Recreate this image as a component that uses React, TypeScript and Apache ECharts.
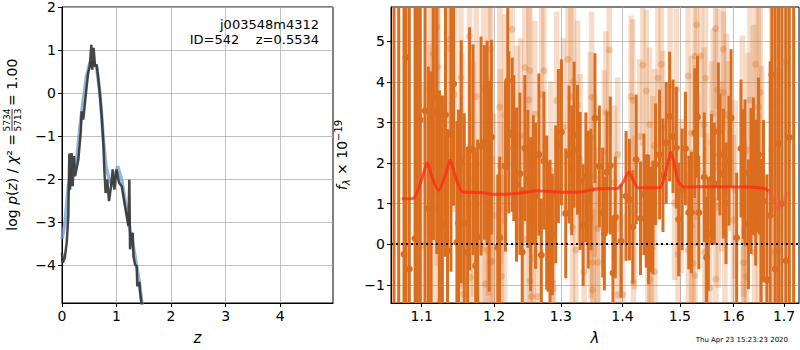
import React, { useEffect, useRef } from "react";
import * as echarts from "echarts";

// ---------- Left panel: log p(z) ----------
const pzDarkZ = [0.0, 0.012, 0.05, 0.086, 0.116, 0.134, 0.147, 0.162, 0.177, 0.196, 0.22, 0.24, 0.3, 0.343, 0.36, 0.39, 0.44, 0.48, 0.51, 0.538, 0.556, 0.58, 0.606, 0.636, 0.66, 0.697, 0.728, 0.758, 0.776, 0.8, 0.83, 0.862, 0.9, 0.93, 0.96, 1.0, 1.046, 1.095, 1.156, 1.217, 1.235, 1.248, 1.27, 1.297, 1.31, 1.34, 1.37, 1.38, 1.42, 1.43, 1.462];
const pzDark = [-3.72, -3.95, -3.85, -3.49, -2.87, -1.41, -2.25, -1.9, -1.4, -2.17, -1.47, -1.94, -1.55, -0.93, -0.43, -0.62, 0.0, 0.47, 0.62, 1.12, 0.54, 1.05, 0.62, 0.66, 0.4, -0.08, -0.54, -1.16, -1.78, -2.33, -2.02, -2.52, -2.17, -1.78, -2.25, -1.78, -2.09, -2.17, -2.64, -3.1, -2.02, -3.64, -3.3, -3.26, -3.8, -4.0, -4.03, -4.5, -4.4, -4.6, -4.95];
const pzBlueZ = [0.0, 0.055, 0.116, 0.177, 0.27, 0.33, 0.39, 0.45, 0.51, 0.574, 0.636, 0.697, 0.758, 0.807, 0.868, 0.93, 1.02, 1.095, 1.174, 1.248, 1.34, 1.42, 1.47];
const pzBlue = [-3.4, -3.02, -2.17, -1.78, -1.55, -0.78, -0.16, 0.39, 0.7, 0.71, 0.58, 0.0, -1.09, -1.71, -2.02, -2.17, -1.71, -2.02, -2.64, -3.18, -3.8, -4.42, -4.95];

const zTicks = [0, 1, 2, 3, 4];
const pzTicks = [-4, -3, -2, -1, 0, 1, 2];
const pzTickLabels = ["−4", "−3", "−2", "−1", "0", "1", "2"];

// ---------- Right panel: spectrum ----------
const lamTicks = [1.1, 1.2, 1.3, 1.4, 1.5, 1.6, 1.7];
const lamTickLabels = ["1.1", "1.2", "1.3", "1.4", "1.5", "1.6", "1.7"];
const fluxTicks = [-1, 0, 1, 2, 3, 4, 5];
const fluxTickLabels = ["−1", "0", "1", "2", "3", "4", "5"];

const darkLam = [1.064, 1.07, 1.0768, 1.0794, 1.0837, 1.0912, 1.0943, 1.0978, 1.1044, 1.1088, 1.1124, 1.1155, 1.1201, 1.1237, 1.1277, 1.1319, 1.1346, 1.1393, 1.1429, 1.1475, 1.1498, 1.1535, 1.1577, 1.1623, 1.1651, 1.1699, 1.1736, 1.1765, 1.1812, 1.186, 1.1899, 1.1928, 1.1961, 1.2052, 1.2081, 1.2164, 1.2198, 1.2213, 1.2263, 1.2287, 1.2327, 1.2377, 1.2412, 1.2451, 1.2496, 1.2537, 1.2578, 1.2613, 1.2663, 1.27, 1.274, 1.2782, 1.2802, 1.2833, 1.287, 1.2921, 1.2963, 1.301, 1.3078, 1.313, 1.3173, 1.321, 1.3264, 1.3306, 1.3354, 1.3398, 1.3436, 1.348, 1.3545, 1.3617, 1.3672, 1.3699, 1.3743, 1.3797, 1.3842, 1.388, 1.3976, 1.4061, 1.4118, 1.4176, 1.4233, 1.4307, 1.4366, 1.4406, 1.4446, 1.448, 1.4522, 1.4568, 1.4639, 1.4698, 1.4756, 1.4817, 1.4877, 1.4937, 1.4978, 1.5041, 1.5101, 1.5161, 1.521, 1.5271, 1.5321, 1.5345, 1.5446, 1.5489, 1.5521, 1.5581, 1.5633, 1.5709, 1.5739, 1.5804, 1.5855, 1.5912, 1.5951, 1.6059, 1.6143, 1.6189, 1.6221, 1.6288, 1.6339, 1.6386, 1.6431, 1.6485, 1.6537, 1.6585, 1.6652, 1.6719, 1.6753, 1.6821, 1.6889, 1.6955, 1.7039, 1.7108, 1.7197];
const darkFlux = [6.5, -2.0, -0.25, 4.61, -0.61, 0.14, 0.41, 3.07, 3.29, 0.88, 0.26, 3.6, 3.26, 0.59, 0.47, 3.19, -0.16, 2.72, 3.95, 0.04, 0.52, 2.03, 0.53, -0.2, 2.35, 2.33, -0.53, 0.18, 2.42, 2.51, 2.52, 1.43, 2.64, -0.08, 0.16, 1.92, 4.03, 2.76, 2.7, 2.37, 1.47, 1.74, -0.19, 2.37, 1.61, 0.74, 1.58, 1.19, 2.21, -0.27, 2.06, 0.78, 0.43, 0.28, 0.24, 1.23, 2.42, 2.76, 0.76, 2.21, 1.82, 2.7, 2.33, 1.56, 0.47, 1.65, 1.1, 1.35, 3.11, 1.92, 0.78, 0.26, 1.78, 1.94, -0.71, 0.66, 0.08, 1.19, 1.1, 0.43, 2.09, 0.64, 1.23, 0.82, 0.61, 0.61, 0.66, 1.97, 2.21, 1.7, 2.5, 3.15, 2.66, 2.38, 0.61, 1.35, 2.36, 0.78, 0.78, 2.74, 3.14, 0.78, 1.65, -0.33, 0.25, 1.61, 1.49, 2.78, 2.21, 1.74, 1.01, 2.06, 3.11, 0.16, 2.36, 1.73, 1.77, 0.49, 1.56, 1.92, 1.27, 2.21, 0.3, 1.06, -0.88, 0.71, 4.18, -0.61, 2.48, 1.0, -0.41, 2.64, 7.0];
const darkErr = [9, 9, 9, 9, 9, 9, 9, 7, 5, 3.5, 4, 3.5, 3.5, 3.2, 3.2, 3.5, 3, 3.4, 3, 3, 2.8, 3, 2.7, 2.6, 3, 2.6, 2.8, 2.4, 2.7, 2.4, 2.5, 2.6, 2.4, 1.8, 2.0, 2.1, 2.2, 2.0, 1.9, 1.8, 1.9, 2.0, 1.6, 1.8, 1.7, 1.9, 1.6, 1.8, 2.0, 1.4, 1.7, 1.9, 1.6, 1.8, 1.5, 1.7, 1.9, 1.8, 1.6, 1.7, 1.6, 1.8, 1.6, 1.7, 1.5, 1.6, 1.7, 1.5, 1.6, 1.5, 1.6, 1.4, 1.5, 1.7, 1.4, 1.5, 1.4, 1.6, 1.5, 1.4, 1.6, 1.4, 1.5, 1.4, 1.6, 1.3, 1.4, 1.5, 1.6, 1.4, 1.5, 1.6, 1.4, 1.5, 1.4, 1.5, 1.4, 1.4, 1.5, 1.6, 1.5, 1.4, 1.6, 1.5, 1.4, 1.6, 1.5, 1.7, 1.5, 1.6, 1.5, 1.6, 1.7, 1.6, 1.7, 1.6, 1.8, 1.6, 1.8, 1.7, 1.8, 1.9, 1.8, 2.0, 2.6, 3.8, 3.4, 9, 9, 9, 9, 9, 12];

const lightLam = [1.0955, 1.1021, 1.1102, 1.1111, 1.1155, 1.1178, 1.1201, 1.121, 1.1214, 1.1246, 1.1373, 1.1383, 1.1442, 1.1531, 1.1545, 1.1559, 1.1651, 1.1661, 1.1707, 1.1745, 1.1826, 1.1849, 1.1874, 1.1907, 1.1921, 1.1927, 1.1946, 1.195, 1.1971, 1.1994, 1.2081, 1.2091, 1.2106, 1.2149, 1.2154, 1.2263, 1.2337, 1.2387, 1.2451, 1.2462, 1.2511, 1.2526, 1.253, 1.2548, 1.2578, 1.2602, 1.2639, 1.2704, 1.274, 1.2844, 1.287, 1.2885, 1.2937, 1.3041, 1.3114, 1.3157, 1.3184, 1.32, 1.3237, 1.3264, 1.3306, 1.3371, 1.3469, 1.348, 1.3491, 1.3507, 1.3509, 1.3534, 1.3589, 1.3592, 1.3699, 1.3726, 1.378, 1.3863, 1.3919, 1.3922, 1.4004, 1.4147, 1.4176, 1.4186, 1.4203, 1.429, 1.4348, 1.4406, 1.4436, 1.4463, 1.4466, 1.4492, 1.4522, 1.455, 1.4553, 1.4609, 1.4668, 1.4698, 1.4826, 1.4904, 1.4937, 1.4967, 1.5028, 1.5149, 1.5152, 1.521, 1.5213, 1.5241, 1.5271, 1.5274, 1.5303, 1.5305, 1.5321, 1.5382, 1.5445, 1.5456, 1.5469, 1.5488, 1.555, 1.5581, 1.5613, 1.5657, 1.5662, 1.5694, 1.5707, 1.5771, 1.5804, 1.5806, 1.5835, 1.5867, 1.5899, 1.5996, 1.6028, 1.617, 1.6189, 1.6192, 1.6209, 1.6254, 1.6273, 1.6319, 1.6386, 1.6406, 1.6431, 1.6485, 1.6488, 1.6518, 1.6551, 1.6753, 1.6788, 1.6808, 1.6875, 1.7025];
const lightFlux = [-0.66, -0.02, 3.79, 1.43, 4.69, 0.88, 5.36, 2.66, 4.38, -1.39, 4.83, 5.05, 3.69, 4.11, 1.8, -1.23, 5.13, -0.82, 1.6, 3.64, -0.11, 3.85, -0.98, -0.16, 1.43, 3.32, -0.45, 4.81, -0.41, 0.71, 3.38, 1.92, -0.79, 0.59, 3.18, 5.3, 2.5, 2.68, 4.36, 0.12, 3.56, 4.28, -0.9, -1.29, -0.35, 3.21, -1.29, 3.69, 4.28, 1.82, -0.93, -1.09, 3.54, 2.88, 4.56, 3.64, 0.41, 4.01, -0.14, 3.42, 2.1, -0.68, 2.64, 0.66, 3.63, -0.45, -1.13, 1.68, 0.39, -0.45, 2.29, 3.25, 4.79, 1.52, 2.21, -1.25, -1.25, 3.64, 3.55, -0.93, 0.78, 2.66, 4.42, 3.78, -0.33, 2.95, -0.88, -0.06, 1.76, 2.42, -0.68, 4.1, 4.44, 2.87, 3.91, 1.02, 3.81, -0.25, 1.19, 4.15, -0.14, 2.74, 0.45, -0.47, 4.64, -0.78, 5.41, 2.5, 1.84, 4.64, 2.95, -0.2, 4.1, 0.53, -1.08, 2.51, 3.22, 5.32, -0.86, 3.81, 0.92, 1.92, 4.81, 3.74, 0.25, 3.19, 2.42, 0.6, 1.35, 2.95, 0.9, -0.45, 0.3, -0.8, 2.32, 3.55, 2.91, -0.2, 4.44, 3.38, 0.52, 3.74, 1.5, 2.33, 3.42, -0.19, -0.14, 4.5];
const lightErr = [4, 4, 3.5, 3.5, 3.5, 3.2, 3.5, 3.2, 3, 3.2, 3, 3.2, 2.9, 3, 2.9, 2.8, 3, 2.8, 2.9, 2.8, 2.7, 2.8, 2.7, 2.6, 2.7, 2.6, 2.6, 2.8, 2.6, 2.5, 2.6, 2.4, 2.5, 2.4, 2.5, 2.6, 2.4, 2.4, 2.5, 2.3, 2.4, 2.4, 2.3, 2.3, 2.2, 2.3, 2.2, 2.3, 2.3, 2.2, 2.2, 2.2, 2.2, 2.2, 2.3, 2.2, 2.1, 2.2, 2.1, 2.1, 2.1, 2.1, 2.1, 2.0, 2.1, 2.0, 2.0, 2.0, 2.0, 2.0, 2.0, 2.0, 2.1, 1.9, 1.9, 2.0, 2.0, 2.0, 2.0, 1.9, 1.9, 1.9, 2.0, 2.0, 1.9, 1.9, 1.9, 1.9, 1.9, 1.9, 1.9, 2.0, 2.0, 1.9, 2.0, 1.9, 2.0, 1.9, 1.9, 2.0, 1.9, 1.9, 1.9, 1.9, 2.0, 1.9, 2.1, 1.9, 1.9, 2.0, 1.9, 2.0, 2.1, 2.2, 2.0, 2.0, 2.1, 2.0, 2.0, 2.0, 2.0, 2.1, 2.0, 2.0, 2.1, 2.0, 2.1, 2.1, 2.2, 2.2, 2.2, 2.3, 2.3, 2.3, 2.4, 2.4, 2.5, 2.5, 2.6, 2.7, 2.7, 2.8, 2.9, 3.8, 4, 4, 4.5, 4.5];

const modelLam = [1.0738, 1.0888, 1.1, 1.1075, 1.1133, 1.1224, 1.1314, 1.1383, 1.1452, 1.1545, 1.1661, 1.1849, 1.1994, 1.2337, 1.2639, 1.3051, 1.3264, 1.3589, 1.3922, 1.4022, 1.4107, 1.4176, 1.4262, 1.4639, 1.4727, 1.4787, 1.4834, 1.4895, 1.4967, 1.5088, 1.5643, 1.6286, 1.6618, 1.6686];
const modelFlux = [1.12, 1.13, 1.6, 2.01, 1.68, 1.33, 1.68, 2.07, 1.68, 1.3, 1.28, 1.27, 1.23, 1.25, 1.32, 1.28, 1.28, 1.37, 1.38, 1.56, 1.78, 1.6, 1.39, 1.39, 1.68, 2.01, 2.27, 2.01, 1.56, 1.41, 1.42, 1.41, 1.37, 1.31];
const modelTailLam = [1.6686, 1.6788, 1.6889, 1.6994, 1.7083];
const modelTailFlux = [1.31, 1.11, 0.88, 1.12, 1.28];

const ORANGE = "#db6d1f";
const FONT = "DejaVu Sans";

function errRender(barW: number, r: number, barOp: number, dotOp: number) {
  return (params: any, api: any) => {
    const x = api.value(0);
    const y = api.value(1);
    const e = api.value(2);
    const p = api.coord([x, y]);
    const t = api.coord([x, y + e]);
    const b = api.coord([x, y - e]);
    const cs = params.coordSys;
    const rect = echarts.graphic.clipRectByRect(
      { x: p[0] - barW / 2, y: t[1], width: barW, height: b[1] - t[1] },
      { x: cs.x, y: cs.y, width: cs.width, height: cs.height }
    );
    const children: any[] = [];
    if (rect) children.push({ type: "rect", shape: rect, style: { fill: ORANGE, opacity: barOp } });
    if (p[1] >= cs.y && p[1] <= cs.y + cs.height) {
      children.push({ type: "circle", shape: { cx: p[0], cy: p[1], r }, style: { fill: ORANGE, opacity: dotOp } });
    }
    return { type: "group", children };
  };
}

export default function App() {
  const ref = useRef<HTMLDivElement>(null);
  useEffect(() => {
    if (!ref.current) return;
    const chart = echarts.init(ref.current, null, { renderer: "svg" });
    const ln = Math.log;
    const labelStyle = { color: "#000", fontSize: 14, fontFamily: FONT };
    const gridLine = { show: true, lineStyle: { color: "#b0b0b0", width: 0.8 } };
    const axisLine = { show: true, onZero: false, lineStyle: { color: "#000", width: 1 } };
    const tickOut = (vals: number[]) => ({ show: true, inside: false, length: 4, lineStyle: { color: "#000" }, customValues: vals });
    const richMain = {
      n: { fontSize: 14, fontFamily: FONT, fill: "#000", color: "#000" },
      i: { fontSize: 14, fontFamily: FONT, fontStyle: "italic", fill: "#000", color: "#000" },
    };

    const option: any = {
      animation: false,
      backgroundColor: "#fff",
      textStyle: { fontFamily: FONT },
      grid: [
        { left: 62, top: 7, width: 271, height: 297, show: true, borderColor: "#000", borderWidth: 1, backgroundColor: "transparent" },
        { left: 391, top: 7, width: 408, height: 297, show: true, borderColor: "#000", borderWidth: 1, backgroundColor: "transparent" },
      ],
      xAxis: [
        {
          type: "value", gridIndex: 0, min: 0, max: 4.97,
          name: "z", nameLocation: "middle", nameGap: 27,
          nameTextStyle: { fontStyle: "italic", fontSize: 15, color: "#000", fontFamily: FONT },
          axisLine, axisTick: tickOut(zTicks), splitLine: gridLine,
          axisLabel: { ...labelStyle, margin: 6, customValues: zTicks, formatter: (v: number) => String(v) },
        },
        {
          type: "value", gridIndex: 1, min: 0.0584, max: 0.5486,
          name: "λ", nameLocation: "middle", nameGap: 27,
          nameTextStyle: { fontStyle: "italic", fontSize: 15, color: "#000", fontFamily: FONT },
          axisLine, axisTick: tickOut(lamTicks.map(ln)), splitLine: gridLine,
          axisLabel: {
            ...labelStyle, margin: 6, customValues: lamTicks.map(ln),
            formatter: (v: number) => {
              let best = 0;
              lamTicks.forEach((t, i) => { if (Math.abs(ln(t) - v) < Math.abs(ln(lamTicks[best]) - v)) best = i; });
              return lamTickLabels[best];
            },
          },
        },
      ],
      yAxis: [
        {
          type: "value", gridIndex: 0, min: -4.89, max: 2,
          axisLine, axisTick: tickOut(pzTicks), splitLine: gridLine,
          axisLabel: { ...labelStyle, margin: 6, customValues: pzTicks, formatter: (v: number) => pzTickLabels[pzTicks.indexOf(Math.round(v))] },
        },
        {
          type: "value", gridIndex: 1, min: -1.45, max: 5.85,
          name: "{i|f}{s|λ}{n| × 10}{p|−19}",
          nameLocation: "middle", nameGap: 40, nameRotate: 90,
          nameTextStyle: {
            color: "#000", fontSize: 14, fontFamily: FONT,
            rich: {
              n: { fontSize: 14, fontFamily: FONT, color: "#000" },
              i: { fontSize: 14, fontFamily: FONT, fontStyle: "italic", color: "#000" },
              s: { fontSize: 10, fontFamily: FONT, fontStyle: "italic", color: "#000", padding: [8, 0, 0, 0] },
              p: { fontSize: 10, fontFamily: FONT, color: "#000", padding: [0, 0, 8, 0] },
            },
          },
          axisLine, axisTick: tickOut(fluxTicks), splitLine: gridLine,
          axisLabel: { ...labelStyle, margin: 6, customValues: fluxTicks, formatter: (v: number) => fluxTickLabels[fluxTicks.indexOf(Math.round(v))] },
        },
      ],
      series: [
        {
          type: "line", xAxisIndex: 0, yAxisIndex: 0, showSymbol: false, symbol: "none",
          data: pzBlueZ.map((z, i) => [z, pzBlue[i]]),
          lineStyle: { color: "#6f9fcc", width: 3.5, opacity: 0.75 }, z: 2,
        },
        {
          type: "line", xAxisIndex: 0, yAxisIndex: 0, showSymbol: false, symbol: "none",
          data: pzDarkZ.map((z, i) => [z, pzDark[i]]),
          lineStyle: { color: "#333333", width: 2.5, opacity: 0.9 }, z: 3,
        },
        {
          type: "custom", xAxisIndex: 1, yAxisIndex: 1,
          renderItem: errRender(5.5, 3.5, 0.24, 0.3),
          encode: { x: 0, y: 1 },
          data: lightLam.map((l, i) => [ln(l), lightFlux[i], lightErr[i]]),
          z: 2,
        },
        {
          type: "custom", xAxisIndex: 1, yAxisIndex: 1,
          renderItem: errRender(3, 3.5, 1, 1),
          encode: { x: 0, y: 1 },
          data: darkLam.map((l, i) => [ln(l), darkFlux[i], darkErr[i]]),
          z: 3,
        },
        {
          type: "line", xAxisIndex: 1, yAxisIndex: 1, showSymbol: false, symbol: "none", smooth: 0.25,
          data: modelLam.map((l, i) => [ln(l), modelFlux[i]]),
          lineStyle: { color: "#ff2a14", width: 3, opacity: 0.75 }, z: 4,
          markLine: {
            silent: true, symbol: "none", label: { show: false },
            lineStyle: { color: "#000", type: [2, 3], width: 2 },
            data: [{ yAxis: 0 }],
          },
        },
        {
          type: "line", xAxisIndex: 1, yAxisIndex: 1, showSymbol: false, symbol: "none", smooth: 0.3,
          data: modelTailLam.map((l, i) => [ln(l), modelTailFlux[i]]),
          lineStyle: { color: "#ff4a4a", width: 3, opacity: 0.4 }, z: 4,
        },
      ],
      graphic: [
        { type: "text", x: 319, y: 24, style: { text: "j003548m4312", font: `13px "${FONT}"`, fill: "#000", align: "right", verticalAlign: "middle" }, z: 10 },
        { type: "text", x: 319, y: 39, style: { text: "ID=542    z=0.5534", font: `13px "${FONT}"`, fill: "#000", align: "right", verticalAlign: "middle" }, z: 10 },
        { type: "text", x: 788, y: 340, style: { text: "Thu Apr 23 15:23:23 2020", font: `7px "${FONT}"`, fill: "#000", align: "right", verticalAlign: "middle" }, z: 10 },
        {
          type: "group", x: 12, y: 155, rotation: Math.PI / 2, z: 10,
          children: [
            { type: "text", x: 21, y: 0, style: { text: "{n|log }{i|p}{n|(}{i|z}{n|) / }{i|χ}{n|² =}", rich: richMain, font: `14px "${FONT}"`, fill: "#000", align: "right", verticalAlign: "middle" } },
            { type: "text", x: 35, y: -5.5, style: { text: "5734", font: `9px "${FONT}"`, fill: "#000", align: "center", verticalAlign: "middle" } },
            { type: "line", shape: { x1: 24, y1: 0, x2: 46, y2: 0 }, style: { stroke: "#000", lineWidth: 0.8 } },
            { type: "text", x: 35, y: 5.5, style: { text: "5713", font: `9px "${FONT}"`, fill: "#000", align: "center", verticalAlign: "middle" } },
            { type: "text", x: 49, y: 0, style: { text: "= 1.00", font: `14px "${FONT}"`, fill: "#000", align: "left", verticalAlign: "middle" } },
          ],
        },
      ],
    };
    chart.setOption(option);
    return () => chart.dispose();
  }, []);
  return <div ref={ref} style={{ position: "absolute", left: 0, top: 0, width: 800, height: 350 }} />;
}
